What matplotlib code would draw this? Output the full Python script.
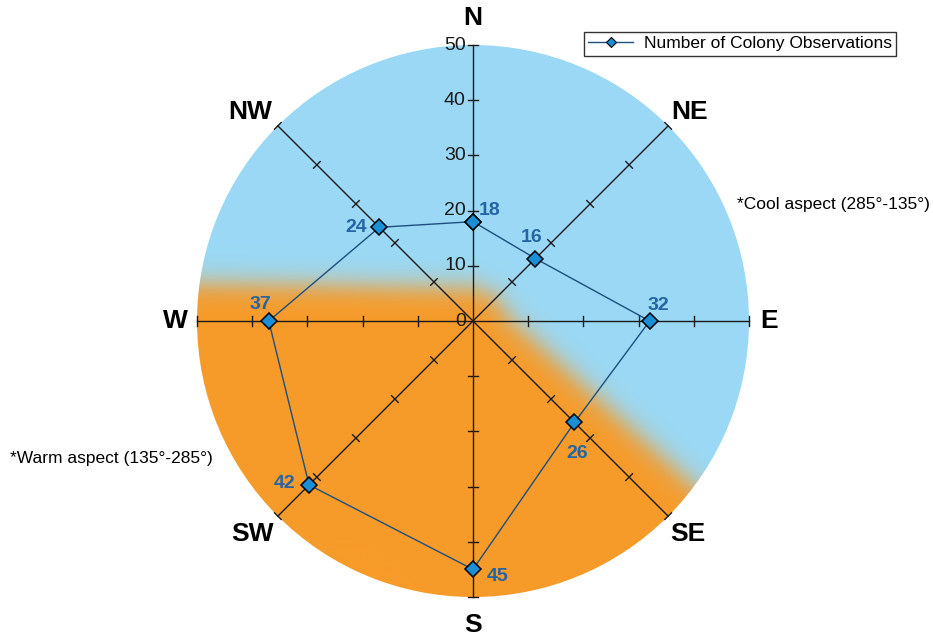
import numpy as np
import matplotlib
matplotlib.use("Agg")
import matplotlib.pyplot as plt
from matplotlib.patches import Circle
from matplotlib.lines import Line2D

# data
directions = ["N", "NE", "E", "SE", "S", "SW", "W", "NW"]
angles_deg = [0, 45, 90, 135, 180, 225, 270, 315]   # compass bearings
observations = [18, 16, 32, 26, 45, 42, 37, 24]
radial_ticks = [10, 20, 30, 40, 50]
rmax = 50

# label offsets (points) for value labels
label_offsets = [(12, 8), (-3, 15), (6, 11), (2, -22), (18, -5), (-18, 1), (-6, 12), (-17, 0)]
# direction label positions (axis units)
dir_pos = [(0, 54.9), (39.3, 37.9), (53.6, 0), (39.0, -38.5),
           (0, -55.0), (-40.0, -38.5), (-54.0, 0), (-40.4, 37.9)]

NARROW = ["Liberation Sans Narrow", "Liberation Sans", "DejaVu Sans"]
BOLD = ["Liberation Sans", "DejaVu Sans"]
BLUE_BG = np.array([154, 217, 246]) / 255
ORANGE_BG = np.array([247, 155, 41]) / 255
LINE_C = "#1d4f7f"
MARK_C = "#1a8fd6"
LABEL_C = "#2565a5"

fig = plt.figure(figsize=(9.33, 6.36), dpi=100)
ax = fig.add_axes([0, 0, 1, 1])
ax.set_xlim(-473 / 5.52, (933 - 473) / 5.52)
ax.set_ylim((321 - 636) / 5.52, 321 / 5.52)
ax.axis("off")

# background: blue (cool) / orange (warm) with blurred boundary
bx = [-60, -25, 0.0, 3.5, 7.2, 40, 60]
by = [7.0, 6.5, 6.0, 4.6, 0.0, -29.8, -48.0]
n = 500
g = np.linspace(-rmax, rmax, n)
X, Y = np.meshgrid(g, g)
d = np.full(X.shape, np.inf)
for i in range(len(bx) - 1):
    x0, y0, x1, y1 = bx[i], by[i], bx[i + 1], by[i + 1]
    vx, vy = x1 - x0, y1 - y0
    t = np.clip(((X - x0) * vx + (Y - y0) * vy) / (vx * vx + vy * vy), 0, 1)
    d = np.minimum(d, np.hypot(X - (x0 + t * vx), Y - (y0 + t * vy)))
sign = np.where(Y > np.interp(X, bx, by), 1.0, -1.0)
w = 0.5 * (1 + np.tanh(sign * d / 2.6))
img = w[..., None] * BLUE_BG + (1 - w[..., None]) * ORANGE_BG
im = ax.imshow(img, extent=[-rmax, rmax, -rmax, rmax], origin="lower",
               interpolation="bilinear", zorder=0)
clip = Circle((0, 0), rmax, transform=ax.transData)
im.set_clip_path(clip)

# spokes and ticks
for a in angles_deg:
    th = np.radians(a)
    ux, uy = np.sin(th), np.cos(th)
    ax.plot([0, rmax * ux], [0, rmax * uy], color="#1a1a1a", lw=1.0, zorder=2)
    px, py = -uy, ux
    for r in radial_ticks:
        cx, cy = r * ux, r * uy
        ax.plot([cx - 0.85 * px, cx + 0.85 * px], [cy - 0.85 * py, cy + 0.85 * py],
                color="#1a1a1a", lw=1.0, zorder=2)

# radial tick labels on the N spoke
for r in [0] + radial_ticks:
    ax.text(-1.3, r, str(r), ha="right", va="center", fontsize=14,
            family=NARROW, color="#1a1a1a", zorder=3)

# direction labels
for name, (lx, ly) in zip(directions, dir_pos):
    ax.text(lx, ly, name, ha="center", va="center",
            fontsize=19, fontweight="bold", family=BOLD, color="black", zorder=3)

# data polygon
th = np.radians(angles_deg + [angles_deg[0]])
vals = np.array(observations + [observations[0]])
xs, ys = vals * np.sin(th), vals * np.cos(th)
ax.plot(xs, ys, color=LINE_C, lw=1.0, marker="D", markersize=8.5,
        markerfacecolor=MARK_C, markeredgecolor="black", markeredgewidth=1.1, zorder=4)

for v, a, off in zip(observations, angles_deg, label_offsets):
    t_ = np.radians(a)
    ax.annotate(str(v), (v * np.sin(t_), v * np.cos(t_)), xytext=off,
                textcoords="offset points", ha="center", va="center",
                fontsize=14, fontweight="bold", family=NARROW, color=LABEL_C, zorder=5)

# aspect notes
fig.text(737 / 933, 1 - 205 / 636, "*Cool aspect (285°-135°)", ha="left", va="center",
         fontsize=12.5, family=NARROW)
fig.text(10 / 933, 1 - 458 / 636, "*Warm aspect (135°-285°)", ha="left", va="center",
         fontsize=12.5, family=NARROW)

# legend
handle = Line2D([], [], color=LINE_C, lw=1.0, marker="D", markersize=5.5,
                markerfacecolor=MARK_C, markeredgecolor="black", markeredgewidth=0.8)
leg = fig.legend([handle], ["Number of Colony Observations"], loc="upper right",
                 bbox_to_anchor=(896 / 933, 1 - 32 / 636), frameon=True, fancybox=False,
                 borderaxespad=0, borderpad=0.25, handlelength=2.6, handletextpad=0.6,
                 prop={"family": NARROW, "size": 12.5})
leg.get_frame().set_edgecolor("black")
leg.get_frame().set_linewidth(1.0)

fig.savefig("out.png", dpi=100)
